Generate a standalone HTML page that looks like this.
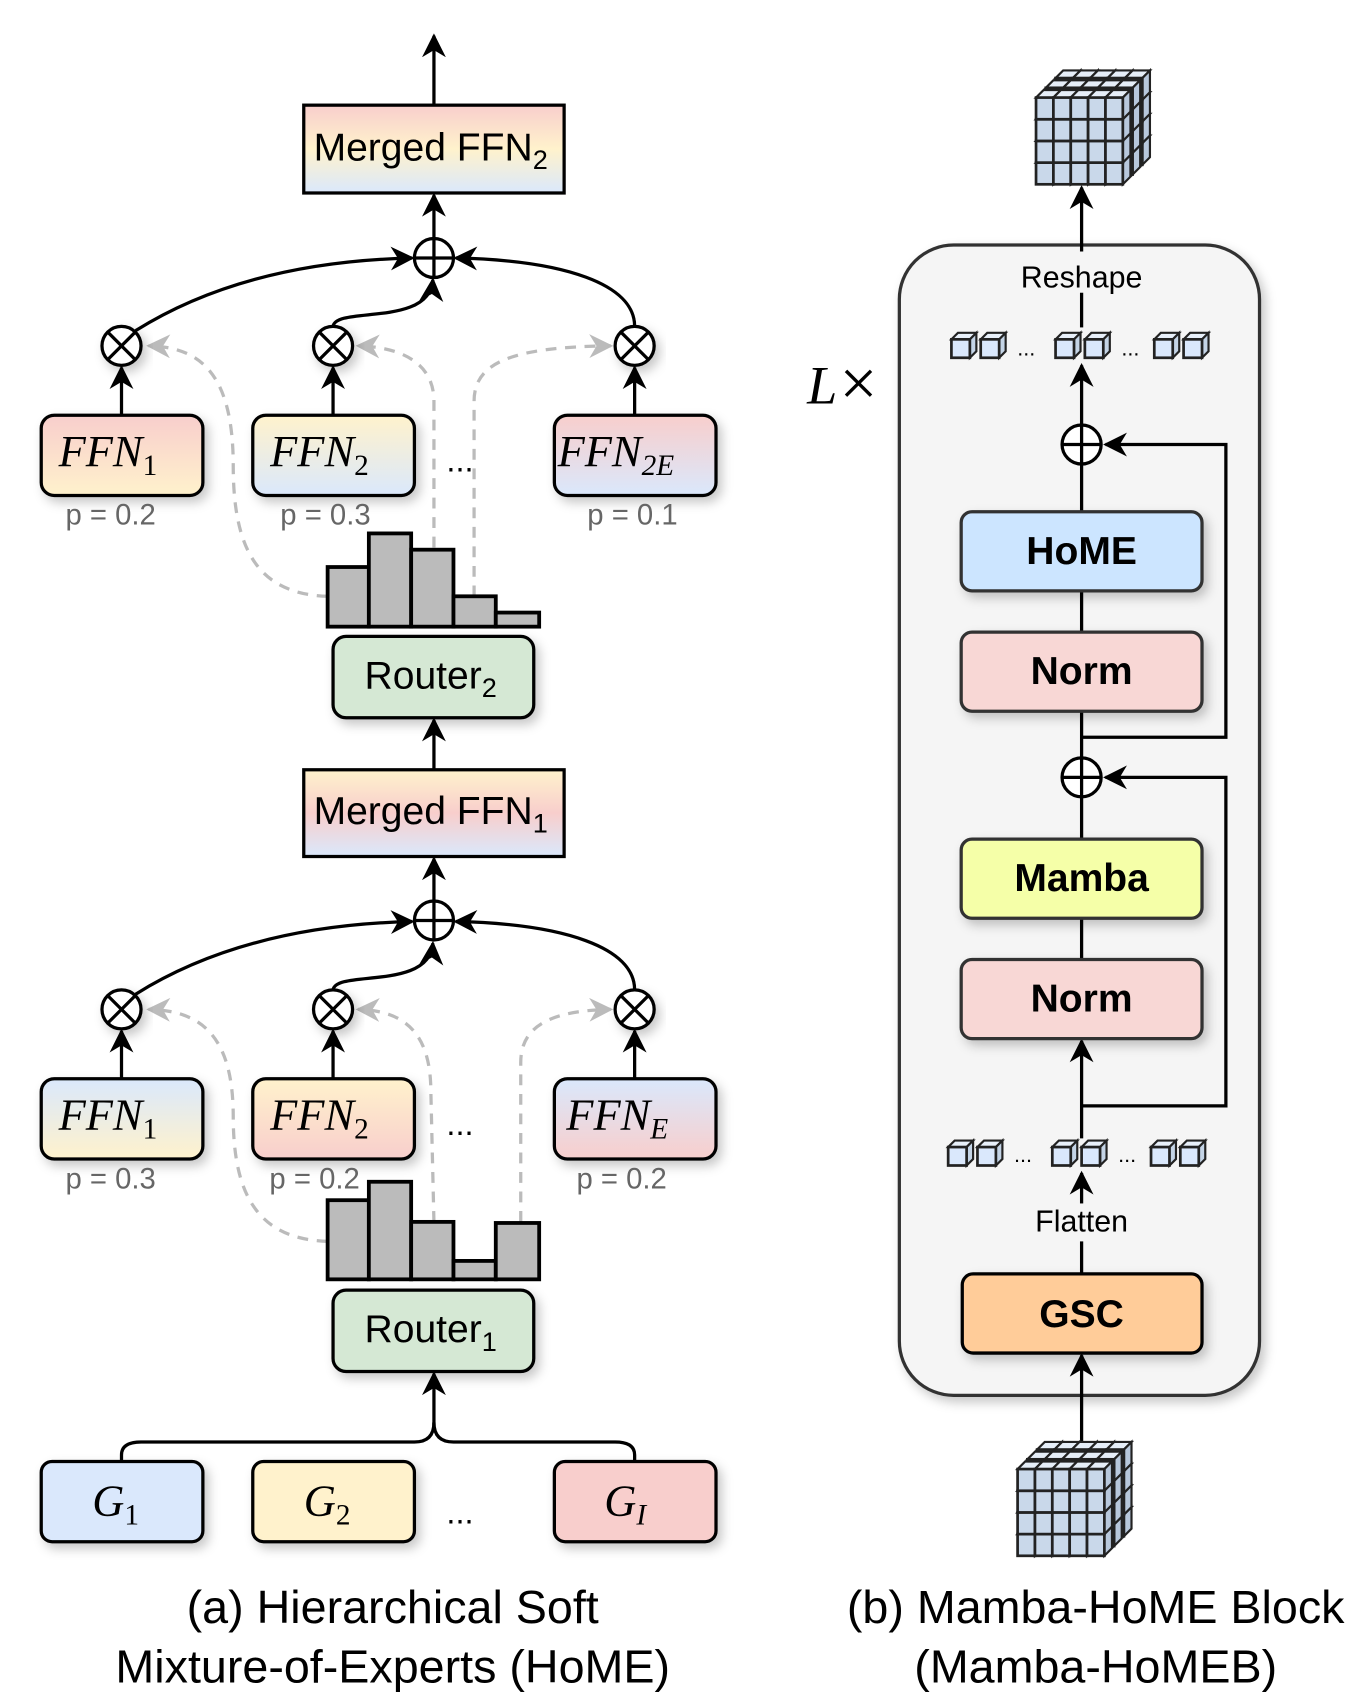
<!DOCTYPE html>
<html><head><meta charset="utf-8"><style>
html,body{margin:0;padding:0;background:#fff;}
svg{display:block;}
text{font-family:"Liberation Sans",sans-serif;}
.m{font-family:"Liberation Serif",serif;font-style:italic;}
</style></head><body>
<svg width="1368" height="1700" viewBox="0 0 1261 1568" preserveAspectRatio="none" xmlns="http://www.w3.org/2000/svg">
<defs>
<marker id="a" viewBox="0 0 10 10" refX="9" refY="5" markerWidth="22" markerHeight="22" orient="auto" markerUnits="userSpaceOnUse"><path d="M0,0 L10,5 L0,10 L3,5 Z" fill="#000"/></marker>
<marker id="ag" viewBox="0 0 10 10" refX="9" refY="5" markerWidth="22" markerHeight="22" orient="auto" markerUnits="userSpaceOnUse"><path d="M0,0 L10,5 L0,10 L3,5 Z" fill="#bbb"/></marker>
<filter id="sh" x="-20%" y="-20%" width="150%" height="160%"><feDropShadow dx="4" dy="5" stdDeviation="5" flood-color="#000" flood-opacity="0.22"/></filter>
<linearGradient id="gm2" x1="0" y1="0" x2="0" y2="1"><stop offset="0" stop-color="#f8cecc"/><stop offset="0.5" stop-color="#fff2cc"/><stop offset="1" stop-color="#dae8fc"/></linearGradient>
<linearGradient id="gm1" x1="0" y1="0" x2="0" y2="1"><stop offset="0" stop-color="#fff2cc"/><stop offset="0.5" stop-color="#f8cecc"/><stop offset="1" stop-color="#dae8fc"/></linearGradient>
<linearGradient id="py" x1="0" y1="0" x2="0" y2="1"><stop offset="0" stop-color="#f8cecc"/><stop offset="1" stop-color="#fff2cc"/></linearGradient>
<linearGradient id="yb" x1="0" y1="0" x2="0" y2="1"><stop offset="0" stop-color="#fff2cc"/><stop offset="1" stop-color="#dae8fc"/></linearGradient>
<linearGradient id="pb" x1="0" y1="0" x2="0" y2="1"><stop offset="0" stop-color="#f8cecc"/><stop offset="1" stop-color="#dae8fc"/></linearGradient>
<linearGradient id="by" x1="0" y1="0" x2="0" y2="1"><stop offset="0" stop-color="#dae8fc"/><stop offset="1" stop-color="#fff2cc"/></linearGradient>
<linearGradient id="yp" x1="0" y1="0" x2="0" y2="1"><stop offset="0" stop-color="#fff2cc"/><stop offset="1" stop-color="#f8cecc"/></linearGradient>
<linearGradient id="bp" x1="0" y1="0" x2="0" y2="1"><stop offset="0" stop-color="#dae8fc"/><stop offset="1" stop-color="#f8cecc"/></linearGradient>
<g id="u"><path d="M0,0 L7,-7 L23,-7 L16,0 Z" fill="#e6eef8" stroke="#222" stroke-width="2"/><path d="M16,0 L23,-7 L23,13 L16,20 Z" fill="#b8c8dc" stroke="#222" stroke-width="2"/><rect x="0" y="0" width="16" height="20" fill="#c9d8ea" stroke="#222" stroke-width="2.5"/></g>
<g id="sc"><path d="M0,6 L6,0 L23,0 L17,6 Z" fill="#e8f0fa" stroke="#222" stroke-width="2"/><path d="M17,6 L23,0 L23,17 L17,23 Z" fill="#c4d4e6" stroke="#222" stroke-width="2"/><rect x="0" y="6" width="17" height="17" fill="#dae8fc" stroke="#222" stroke-width="2.5"/></g>
<g id="pair"><use href="#sc"/><use href="#sc" x="27"/></g>
<g id="big">
<g transform="translate(18,-18)">
<use href="#u" x="0" y="60"/><use href="#u" x="16" y="60"/><use href="#u" x="32" y="60"/><use href="#u" x="48" y="60"/><use href="#u" x="64" y="60"/>
<use href="#u" x="0" y="40"/><use href="#u" x="16" y="40"/><use href="#u" x="32" y="40"/><use href="#u" x="48" y="40"/><use href="#u" x="64" y="40"/>
<use href="#u" x="0" y="20"/><use href="#u" x="16" y="20"/><use href="#u" x="32" y="20"/><use href="#u" x="48" y="20"/><use href="#u" x="64" y="20"/>
<use href="#u" x="0" y="0"/><use href="#u" x="16" y="0"/><use href="#u" x="32" y="0"/><use href="#u" x="48" y="0"/><use href="#u" x="64" y="0"/>
</g>
<g transform="translate(9,-9)">
<use href="#u" x="0" y="60"/><use href="#u" x="16" y="60"/><use href="#u" x="32" y="60"/><use href="#u" x="48" y="60"/><use href="#u" x="64" y="60"/>
<use href="#u" x="0" y="40"/><use href="#u" x="16" y="40"/><use href="#u" x="32" y="40"/><use href="#u" x="48" y="40"/><use href="#u" x="64" y="40"/>
<use href="#u" x="0" y="20"/><use href="#u" x="16" y="20"/><use href="#u" x="32" y="20"/><use href="#u" x="48" y="20"/><use href="#u" x="64" y="20"/>
<use href="#u" x="0" y="0"/><use href="#u" x="16" y="0"/><use href="#u" x="32" y="0"/><use href="#u" x="48" y="0"/><use href="#u" x="64" y="0"/>
</g>
<use href="#u" x="0" y="60"/><use href="#u" x="16" y="60"/><use href="#u" x="32" y="60"/><use href="#u" x="48" y="60"/><use href="#u" x="64" y="60"/>
<use href="#u" x="0" y="40"/><use href="#u" x="16" y="40"/><use href="#u" x="32" y="40"/><use href="#u" x="48" y="40"/><use href="#u" x="64" y="40"/>
<use href="#u" x="0" y="20"/><use href="#u" x="16" y="20"/><use href="#u" x="32" y="20"/><use href="#u" x="48" y="20"/><use href="#u" x="64" y="20"/>
<use href="#u" x="0" y="0"/><use href="#u" x="16" y="0"/><use href="#u" x="32" y="0"/><use href="#u" x="48" y="0"/><use href="#u" x="64" y="0"/>
</g>
<g id="otimes"><circle r="18" fill="#fff" stroke="#000" stroke-width="3"/><path d="M-12.7,-12.7 L12.7,12.7 M-12.7,12.7 L12.7,-12.7" stroke="#000" stroke-width="3"/></g>
<g id="oplus"><circle r="18" fill="#fff" stroke="#000" stroke-width="3"/><path d="M-18,0 L18,0 M0,-18 L0,18" stroke="#000" stroke-width="3"/></g>
</defs>

<g fill="none" stroke="#000" stroke-width="3">
<line x1="400" y1="97" x2="400" y2="33" marker-end="url(#a)"/>
<line x1="400" y1="220" x2="400" y2="180" marker-end="url(#a)"/>
<path d="M125,305 C200,258 290,240 380,238" marker-end="url(#a)"/>
<path d="M307,301 C310,282 396,302 399,258" marker-end="url(#a)"/>
<path d="M585,301 C585,262 520,240 420,238" marker-end="url(#a)"/>
<line x1="112" y1="383" x2="112" y2="339" marker-end="url(#a)"/>
<line x1="307" y1="383" x2="307" y2="339" marker-end="url(#a)"/>
<line x1="585" y1="383" x2="585" y2="339" marker-end="url(#a)"/>
<line x1="400" y1="710" x2="400" y2="664" marker-end="url(#a)"/>
<line x1="400" y1="831" x2="400" y2="792" marker-end="url(#a)"/>
<path d="M125,917 C200,870 290,852 380,850" marker-end="url(#a)"/>
<path d="M307,913 C310,894 396,914 399,870" marker-end="url(#a)"/>
<path d="M585,913 C585,874 520,852 420,850" marker-end="url(#a)"/>
<line x1="112" y1="995" x2="112" y2="951" marker-end="url(#a)"/>
<line x1="307" y1="995" x2="307" y2="951" marker-end="url(#a)"/>
<line x1="585" y1="995" x2="585" y2="951" marker-end="url(#a)"/>
<path d="M112,1348 L112,1342 Q112,1330 130,1330 L382,1330 Q400,1330 400,1312"/>
<path d="M585,1348 L585,1342 Q585,1330 567,1330 L418,1330 Q400,1330 400,1312"/>
<line x1="400" y1="1320" x2="400" y2="1267" marker-end="url(#a)"/>
</g>
<g fill="none" stroke="#bbb" stroke-width="3" stroke-dasharray="10,8">
<path d="M302,550 C240,548 215,510 215,430 C215,345 185,320 137,319" marker-end="url(#ag)"/>
<path d="M400,505 L400,370 C400,335 370,320 330,319" marker-end="url(#ag)"/>
<path d="M437,550 L437,370 C437,335 470,320 563,319" marker-end="url(#ag)"/>
<path d="M302,1145 C240,1143 215,1105 215,1030 C215,955 185,932 137,931" marker-end="url(#ag)"/>
<path d="M400,1127 L397,1000 C395,950 370,932 330,931" marker-end="url(#ag)"/>
<path d="M480,1127 L480,980 C480,945 510,932 563,931" marker-end="url(#ag)"/>
</g>

<rect x="280" y="97" width="240" height="81" fill="url(#gm2)" stroke="#000" stroke-width="3"/>
<text x="397" y="148" font-size="36" text-anchor="middle">Merged FFN<tspan font-size="25" dy="8">2</tspan></text>
<use href="#oplus" x="400" y="238"/>
<use href="#otimes" x="112" y="319" filter="url(#sh)"/>
<use href="#otimes" x="307" y="319" filter="url(#sh)"/>
<use href="#otimes" x="585" y="319" filter="url(#sh)"/>

<g stroke="#000" stroke-width="3" filter="url(#sh)">
<rect x="38" y="383" width="149" height="74" rx="12" fill="url(#py)"/>
<rect x="233" y="383" width="149" height="74" rx="12" fill="url(#yb)"/>
<rect x="511" y="383" width="149" height="74" rx="12" fill="url(#pb)"/>
</g>
<text class="m" x="54" y="430" font-size="41">FFN<tspan font-size="27" dy="8" font-style="normal">1</tspan></text>
<text class="m" x="249" y="430" font-size="41">FFN<tspan font-size="27" dy="8" font-style="normal">2</tspan></text>
<text class="m" x="514" y="430" font-size="41">FFN<tspan font-size="27" dy="8">2E</tspan></text>
<text x="424" y="435" font-size="30" text-anchor="middle">...</text>
<g font-size="27" fill="#666" text-anchor="middle">
<text x="102" y="484">p = 0.2</text><text x="300" y="484">p = 0.3</text><text x="583" y="484">p = 0.1</text>
</g>
<g fill="#bbb" stroke="#000" stroke-width="3.5">
<rect x="302" y="523" width="38" height="55"/><rect x="340" y="492" width="39" height="86"/><rect x="379" y="507" width="39" height="71"/><rect x="418" y="550" width="39" height="28"/><rect x="457" y="565" width="40" height="13"/>
</g>
<rect x="307" y="587" width="185" height="75" rx="12" fill="#d5e8d4" stroke="#000" stroke-width="3" filter="url(#sh)"/>
<text x="397" y="635" font-size="36" text-anchor="middle">Router<tspan font-size="25" dy="8">2</tspan></text>

<rect x="280" y="710" width="240" height="80" fill="url(#gm1)" stroke="#000" stroke-width="3"/>
<text x="397" y="760" font-size="36" text-anchor="middle">Merged FFN<tspan font-size="25" dy="8">1</tspan></text>
<use href="#oplus" x="400" y="849"/>
<use href="#otimes" x="112" y="931" filter="url(#sh)"/>
<use href="#otimes" x="307" y="931" filter="url(#sh)"/>
<use href="#otimes" x="585" y="931" filter="url(#sh)"/>
<g stroke="#000" stroke-width="3" filter="url(#sh)">
<rect x="38" y="995" width="149" height="74" rx="12" fill="url(#by)"/>
<rect x="233" y="995" width="149" height="74" rx="12" fill="url(#yp)"/>
<rect x="511" y="995" width="149" height="74" rx="12" fill="url(#bp)"/>
</g>
<text class="m" x="54" y="1042" font-size="41">FFN<tspan font-size="27" dy="8" font-style="normal">1</tspan></text>
<text class="m" x="249" y="1042" font-size="41">FFN<tspan font-size="27" dy="8" font-style="normal">2</tspan></text>
<text class="m" x="522" y="1042" font-size="41">FFN<tspan font-size="27" dy="8">E</tspan></text>
<text x="424" y="1047" font-size="30" text-anchor="middle">...</text>
<g font-size="27" fill="#666" text-anchor="middle">
<text x="102" y="1096">p = 0.3</text><text x="290" y="1096">p = 0.2</text><text x="573" y="1096">p = 0.2</text>
</g>
<g fill="#bbb" stroke="#000" stroke-width="3.5">
<rect x="302" y="1107" width="38" height="73"/><rect x="340" y="1090" width="39" height="90"/><rect x="379" y="1127" width="39" height="53"/><rect x="418" y="1163" width="39" height="17"/><rect x="457" y="1128" width="40" height="52"/>
</g>
<rect x="307" y="1190" width="185" height="75" rx="12" fill="#d5e8d4" stroke="#000" stroke-width="3" filter="url(#sh)"/>
<text x="397" y="1238" font-size="36" text-anchor="middle">Router<tspan font-size="25" dy="8">1</tspan></text>

<g stroke="#000" stroke-width="3" filter="url(#sh)">
<rect x="38" y="1348" width="149" height="74" rx="10" fill="#dae8fc"/>
<rect x="233" y="1348" width="149" height="74" rx="10" fill="#fff2cc"/>
<rect x="511" y="1348" width="149" height="74" rx="10" fill="#f8cecc"/>
</g>
<text class="m" x="85" y="1398" font-size="41">G<tspan font-size="27" dy="8" font-style="normal">1</tspan></text>
<text class="m" x="280" y="1398" font-size="41">G<tspan font-size="27" dy="8" font-style="normal">2</tspan></text>
<text class="m" x="557" y="1398" font-size="41">G<tspan font-size="27" dy="8">I</tspan></text>
<text x="424" y="1405" font-size="30" text-anchor="middle">...</text>

<text x="362" y="1497" font-size="43" text-anchor="middle">(a) Hierarchical Soft</text>
<text x="362" y="1552" font-size="43" text-anchor="middle">Mixture-of-Experts (HoME)</text>

<rect x="829" y="226" width="332" height="1061" rx="50" fill="#f5f5f5" stroke="#333" stroke-width="3" filter="url(#sh)"/>
<text class="m" x="744" y="372" font-size="50">L<tspan font-style="normal" font-size="62" dx="2" dy="2">×</tspan></text>

<g fill="none" stroke="#000" stroke-width="3">
<line x1="997" y1="232" x2="997" y2="173" marker-end="url(#a)"/>
<line x1="997" y1="270" x2="997" y2="302"/>
<line x1="997" y1="392" x2="997" y2="337" marker-end="url(#a)"/>
<line x1="997" y1="428" x2="997" y2="472"/>
<line x1="997" y1="545" x2="997" y2="583"/>
<line x1="997" y1="656" x2="997" y2="699"/>
<path d="M997,680 L1130,680 L1130,410 L1019,410" marker-end="url(#a)"/>
<line x1="997" y1="735" x2="997" y2="774"/>
<line x1="997" y1="847" x2="997" y2="885"/>
<path d="M997,1020 L1130,1020 L1130,717 L1019,717" marker-end="url(#a)"/>
<line x1="997" y1="1050" x2="997" y2="960" marker-end="url(#a)"/>
<line x1="997" y1="1110" x2="997" y2="1082" marker-end="url(#a)"/>
<line x1="997" y1="1145" x2="997" y2="1175"/>
<line x1="997" y1="1330" x2="997" y2="1250" marker-end="url(#a)"/>
</g>
<text x="997" y="265" font-size="28" text-anchor="middle">Reshape</text>
<text x="997" y="1136" font-size="28" text-anchor="middle">Flatten</text>
<use href="#oplus" x="997" y="410"/>
<use href="#oplus" x="997" y="717"/>

<g stroke="#333" stroke-width="3" filter="url(#sh)">
<rect x="886" y="472" width="222" height="73" rx="10" fill="#cce5ff"/>
<rect x="886" y="583" width="222" height="73" rx="10" fill="#f8d7d5"/>
<rect x="886" y="774" width="222" height="73" rx="10" fill="#f5ffa8"/>
<rect x="886" y="885" width="222" height="73" rx="10" fill="#f8d7d5"/>
<rect x="887" y="1175" width="221" height="73" rx="10" fill="#ffcc99" stroke="#000"/>
</g>
<g font-size="36" font-weight="bold" text-anchor="middle">
<text x="997" y="520">HoME</text><text x="997" y="631">Norm</text><text x="997" y="822">Mamba</text><text x="997" y="933">Norm</text><text x="997" y="1224">GSC</text>
</g>

<use href="#pair" x="877" y="307"/><text x="946" y="328" font-size="20" text-anchor="middle">...</text>
<use href="#pair" x="973" y="307"/><text x="1042" y="328" font-size="20" text-anchor="middle">...</text>
<use href="#pair" x="1064" y="307"/>
<use href="#pair" x="874" y="1052"/><text x="943" y="1072" font-size="20" text-anchor="middle">...</text>
<use href="#pair" x="970" y="1052"/><text x="1039" y="1072" font-size="20" text-anchor="middle">...</text>
<use href="#pair" x="1061" y="1052"/>

<use href="#big" x="955" y="90"/>
<use href="#big" x="938" y="1355"/>

<text x="1010" y="1497" font-size="43" text-anchor="middle">(b) Mamba-HoME Block</text>
<text x="1010" y="1552" font-size="43" text-anchor="middle">(Mamba-HoMEB)</text>
</svg>
</body></html>
